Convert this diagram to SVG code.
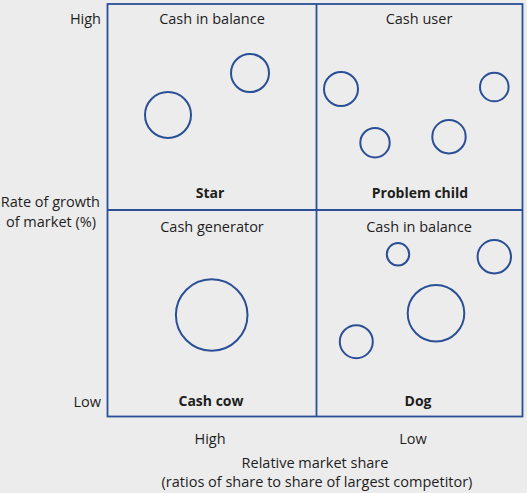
<svg xmlns="http://www.w3.org/2000/svg" width="527" height="493" viewBox="0 0 527 493">
<style>
.t{font-family:"Open Sans","Noto Sans","Liberation Sans",sans-serif;font-size:14.5px;fill:#1e1e1e}
.b{font-weight:bold;font-size:14px}
.c{fill:none;stroke:#2a4f97;stroke-width:2}
.l{fill:none;stroke:#2a4f97;stroke-width:1.8}
</style>
<rect width="527" height="493" fill="#ececec"/>
<g id="matrix">
<rect x="107.5" y="4" width="415" height="412.5" fill="#ffffff" class="l"/>
<line x1="316.5" y1="4" x2="316.5" y2="416.5" class="l"/>
<line x1="107.5" y1="210" x2="522.5" y2="210" class="l"/>
</g>
<g id="star">
<text class="t" x="212" y="24" text-anchor="middle">Cash in balance</text>
<circle class="c" cx="168" cy="115" r="23"/>
<circle class="c" cx="250" cy="73" r="19"/>
<text class="t b" x="210" y="198" text-anchor="middle">Star</text>
</g>
<g id="problem-child">
<text class="t" x="419" y="24" text-anchor="middle">Cash user</text>
<circle class="c" cx="341" cy="89" r="17"/>
<circle class="c" cx="494.3" cy="87" r="14.3"/>
<circle class="c" cx="375" cy="142.7" r="14.7"/>
<circle class="c" cx="449" cy="136.7" r="16.7"/>
<text class="t b" x="420" y="198" text-anchor="middle">Problem child</text>
</g>
<g id="cash-cow">
<text class="t" x="212" y="232" text-anchor="middle">Cash generator</text>
<circle class="c" cx="211.7" cy="315" r="35.8"/>
<text class="t b" x="211" y="406" text-anchor="middle">Cash cow</text>
</g>
<g id="dog">
<text class="t" x="419" y="232" text-anchor="middle">Cash in balance</text>
<circle class="c" cx="398" cy="254.3" r="11.2"/>
<circle class="c" cx="494.3" cy="256.7" r="16.7"/>
<circle class="c" cx="436" cy="313.3" r="28.3"/>
<circle class="c" cx="356.3" cy="341.7" r="16.5"/>
<text class="t b" x="418" y="406" text-anchor="middle">Dog</text>
</g>
<g id="axes">
<text class="t" x="101" y="24" text-anchor="end">High</text>
<text class="t" x="100" y="207" text-anchor="end">Rate of growth</text>
<text class="t" x="96" y="227" text-anchor="end">of market (%)</text>
<text class="t" x="101" y="407" text-anchor="end">Low</text>
<text class="t" x="210" y="444" text-anchor="middle">High</text>
<text class="t" x="413" y="444" text-anchor="middle">Low</text>
<text class="t" x="315" y="468" text-anchor="middle">Relative market share</text>
<text class="t" x="317" y="487" text-anchor="middle">(ratios of share to share of largest competitor)</text>
</g>
</svg>
